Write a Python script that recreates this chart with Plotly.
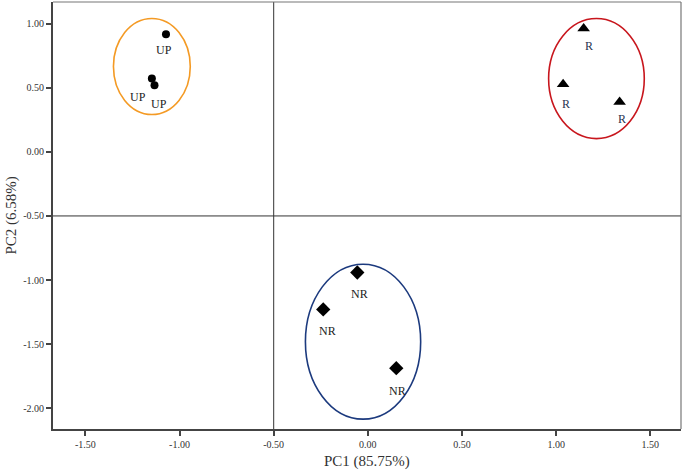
import plotly.graph_objects as go

# ---- data ----
up_x = [-1.072, -1.147, -1.133]
up_y = [0.917, 0.571, 0.519]
r_x = [1.146, 1.037, 1.337]
r_y = [0.961, 0.527, 0.389]
nr_x = [-0.056, -0.237, 0.151]
nr_y = [-0.941, -1.229, -1.687]

x_ticks = [-1.5, -1.0, -0.5, 0.0, 0.5, 1.0, 1.5]
y_ticks = [1.0, 0.5, 0.0, -0.5, -1.0, -1.5, -2.0]

# ellipses (center x, center y, radius x, radius y)
ell_up = (-1.147, 0.665, 0.204, 0.374)
ell_r = (1.214, 0.571, 0.254, 0.468)
ell_nr = (-0.0255, -1.480, 0.306, 0.604)

FONT = "Liberation Serif"
fig = go.Figure()

fig.add_trace(go.Scatter(x=up_x, y=up_y, mode="markers",
                         marker=dict(symbol="circle", size=8, color="black"),
                         showlegend=False))
fig.add_trace(go.Scatter(x=r_x, y=r_y, mode="markers",
                         marker=dict(symbol="triangle-up", size=11, color="black"),
                         showlegend=False))
fig.add_trace(go.Scatter(x=nr_x, y=nr_y, mode="markers",
                         marker=dict(symbol="diamond", size=11, color="black"),
                         showlegend=False))

# labels
label_shifts_up = [(-2, -16), (-14, -18), (4, -19)]
for (x, y), (dx, dy) in zip(zip(up_x, up_y), label_shifts_up):
    fig.add_annotation(x=x, y=y, text="UP", showarrow=False, xshift=dx, yshift=dy,
                       font=dict(family=FONT, size=12, color="#222"))
label_shifts_r = [(5, -17), (3, -20), (2, -17)]
for (x, y), (dx, dy) in zip(zip(r_x, r_y), label_shifts_r):
    fig.add_annotation(x=x, y=y, text="R", showarrow=False, xshift=dx, yshift=dy,
                       font=dict(family=FONT, size=12, color="#2a3550"))
label_shifts_nr = [(2, -21), (4, -22), (1, -23)]
for (x, y), (dx, dy) in zip(zip(nr_x, nr_y), label_shifts_nr):
    fig.add_annotation(x=x, y=y, text="NR", showarrow=False, xshift=dx, yshift=dy,
                       font=dict(family=FONT, size=12, color="#222"))

def ellipse(e, color):
    cx, cy, rx, ry = e
    fig.add_shape(type="circle", xref="x", yref="y",
                  x0=cx - rx, x1=cx + rx, y0=cy - ry, y1=cy + ry,
                  line=dict(color=color, width=1.6))

ellipse(ell_up, "#F49A24")
ellipse(ell_r, "#C8161D")
ellipse(ell_nr, "#1C3A7E")

# reference lines
fig.add_shape(type="line", xref="x", yref="paper", x0=-0.5, x1=-0.5, y0=0, y1=1,
              line=dict(color="#333", width=1))
fig.add_shape(type="line", xref="paper", yref="y", x0=0, x1=1, y0=-0.5, y1=-0.5,
              line=dict(color="#333", width=1))
# top / right frame
fig.add_shape(type="line", xref="paper", yref="paper", x0=0, x1=1, y0=1, y1=1,
              line=dict(color="#777", width=1.2))
fig.add_shape(type="line", xref="paper", yref="paper", x0=1, x1=1, y0=0, y1=1,
              line=dict(color="#777", width=1.2))

# axis titles
fig.add_annotation(xref="paper", yref="paper", x=0.5, y=0, yshift=-32, yanchor="middle",
                   text="PC1 (85.75%)", showarrow=False,
                   font=dict(family=FONT, size=15, color="#333"))
fig.add_annotation(xref="paper", yref="paper", x=0, xshift=-42, y=0.5, xanchor="center",
                   text="PC2 (6.58%)", showarrow=False, textangle=-90,
                   font=dict(family=FONT, size=15, color="#333"))

fig.update_xaxes(range=[-1.672, 1.663], tickvals=x_ticks,
                 ticktext=[f"{v:.2f}" for v in x_ticks], automargin=False,
                 showgrid=False, zeroline=False, showline=True, linecolor="#444",
                 linewidth=2, ticks="outside", ticklen=5, tickwidth=2, tickcolor="#444",
                 tickfont=dict(family=FONT, size=10, color="#333"))
fig.update_yaxes(range=[-2.161, 1.168], tickvals=y_ticks,
                 ticktext=[f"{v:.2f}" for v in y_ticks], automargin=False,
                 showgrid=False, zeroline=False, showline=True, linecolor="#444",
                 linewidth=2, ticks="outside", ticklen=5, tickwidth=2, tickcolor="#444",
                 tickfont=dict(family=FONT, size=10, color="#333"))

fig.update_layout(width=685, height=471, plot_bgcolor="white", paper_bgcolor="white",
                  margin=dict(l=53, r=4, t=2, b=42))

fig.write_html("out.html", config={"displayModeBar": False},
               post_script="document.body.style.margin='0';document.body.style.overflow='hidden';")
